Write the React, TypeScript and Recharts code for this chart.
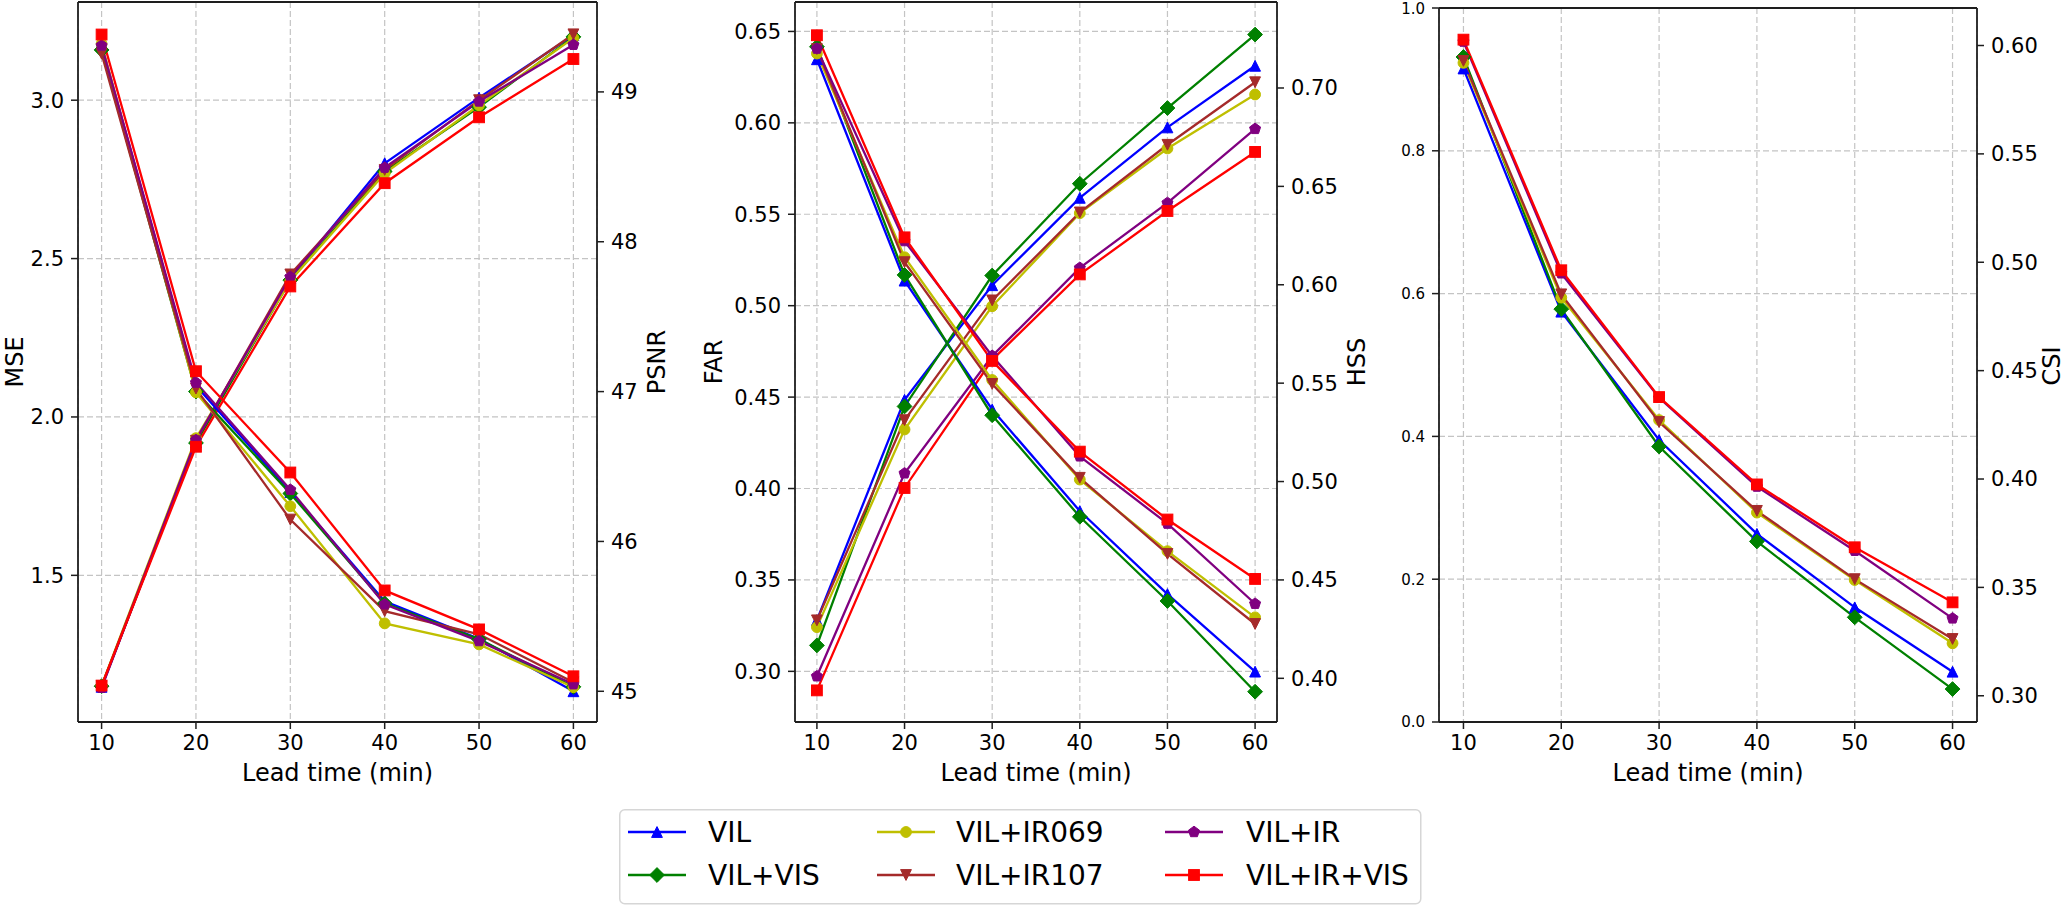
import React from 'react';
import { LineChart, Line, XAxis, YAxis, CartesianGrid, ReferenceLine } from 'recharts';

// ---------- data ----------
const leadTimes = [10, 20, 30, 40, 50, 60];
const seriesNames = ['VIL', 'VIL+VIS', 'VIL+IR069', 'VIL+IR107', 'VIL+IR', 'VIL+IR+VIS'];
const seriesColors = ['#0000ff', '#008000', '#bfbf00', '#a52a2a', '#800080', '#ff0000'];
const seriesMarkers = ['triUp', 'diamond', 'circle', 'triDown', 'pentagon', 'square'];

const mseVIL = [1.148, 1.92, 2.438, 2.801, 3.008, 3.205];
const mseVIS = [1.15, 1.918, 2.432, 2.775, 2.978, 3.2];
const mseIR069 = [1.152, 1.933, 2.43, 2.769, 2.984, 3.196];
const mseIR107 = [1.15, 1.925, 2.45, 2.78, 3.0, 3.208];
const mseIR = [1.145, 1.927, 2.442, 2.787, 2.996, 3.175];
const mseIRVIS = [1.152, 1.906, 2.412, 2.738, 2.946, 3.13];

const psnrVIL = [49.31, 47.04, 46.33, 45.6, 45.35, 45.0];
const psnrVIS = [49.28, 47.0, 46.32, 45.587, 45.347, 45.03];
const psnrIR069 = [49.32, 46.995, 46.235, 45.453, 45.313, 45.027];
const psnrIR107 = [49.255, 47.02, 46.146, 45.535, 45.38, 45.06];
const psnrIR = [49.31, 47.06, 46.345, 45.58, 45.335, 45.047];
const psnrIRVIS = [49.383, 47.136, 46.46, 45.673, 45.413, 45.1];

const farVIL = [0.328, 0.4485, 0.5112, 0.559, 0.5975, 0.6312];
const farVIS = [0.3142, 0.4449, 0.5165, 0.5667, 0.6081, 0.6483];
const farIR069 = [0.3242, 0.4323, 0.4997, 0.5506, 0.586, 0.6155];
const farIR107 = [0.3279, 0.4374, 0.5029, 0.551, 0.588, 0.6222];
const farIR = [0.2973, 0.4083, 0.4725, 0.5207, 0.5562, 0.5967];
const farIRVIS = [0.2896, 0.4003, 0.4704, 0.5171, 0.5518, 0.5841];

const hssVIL = [0.7146, 0.6021, 0.5366, 0.485, 0.4428, 0.4034];
const hssVIS = [0.721, 0.605, 0.5337, 0.4821, 0.4393, 0.3932];
const hssIR069 = [0.7175, 0.614, 0.5516, 0.501, 0.4646, 0.431];
const hssIR107 = [0.7198, 0.6115, 0.5496, 0.5019, 0.4632, 0.4276];
const hssIR = [0.72, 0.6222, 0.5638, 0.5128, 0.4786, 0.4379];
const hssIRVIS = [0.7268, 0.6241, 0.5613, 0.5152, 0.4807, 0.4505];

const csiVIL = [0.5894, 0.4772, 0.418, 0.3747, 0.3408, 0.3111];
const csiVIS = [0.5947, 0.4784, 0.415, 0.3712, 0.3362, 0.3031];
const csiIR069 = [0.592, 0.4837, 0.4272, 0.3845, 0.3534, 0.3242];
const csiIR107 = [0.5929, 0.4852, 0.4263, 0.3853, 0.3538, 0.3262];
const csiIR = [0.6018, 0.4949, 0.4375, 0.3965, 0.3669, 0.3357];
const csiIRVIS = [0.6027, 0.4963, 0.4378, 0.3975, 0.3685, 0.3431];

const xTicks = [10, 20, 30, 40, 50, 60];
const mseTicks = [1.5, 2.0, 2.5, 3.0];
const psnrTicks = [45, 46, 47, 48, 49];
const farTicks = [0.3, 0.35, 0.4, 0.45, 0.5, 0.55, 0.6, 0.65];
const hssTicks = [0.4, 0.45, 0.5, 0.55, 0.6, 0.65, 0.7];
const blankTicks = [0, 0.2, 0.4, 0.6, 0.8, 1.0];
const csiTicks = [0.3, 0.35, 0.4, 0.45, 0.5, 0.55, 0.6];

const xAxisTitle = 'Lead time (min)';
const panelLeftTitles = ['MSE', 'FAR', ''];
const panelRightTitles = ['PSNR', 'HSS', 'CSI'];

const mseSeries = [mseVIL, mseVIS, mseIR069, mseIR107, mseIR, mseIRVIS];
const psnrSeries = [psnrVIL, psnrVIS, psnrIR069, psnrIR107, psnrIR, psnrIRVIS];
const farSeries = [farVIL, farVIS, farIR069, farIR107, farIR, farIRVIS];
const hssSeries = [hssVIL, hssVIS, hssIR069, hssIR107, hssIR, hssIRVIS];
const csiSeries = [csiVIL, csiVIS, csiIR069, csiIR107, csiIR, csiIRVIS];

// ---------- helpers ----------
const FONT = 'DejaVu Sans';
const SPINE = '#1e1e1e';

function buildRows(left: number[][] | null, right: number[][]) {
  return leadTimes.map((t, i) => {
    const row: any = { t };
    if (left) left.forEach((s, k) => (row['l' + k] = s[i]));
    right.forEach((s, k) => (row['r' + k] = s[i]));
    return row;
  });
}

function Marker(props: any) {
  const { cx, cy, shape, color } = props;
  if (cx == null || cy == null || isNaN(cx) || isNaN(cy)) return null;
  const s = 5.4;
  const common = { fill: color, stroke: color, strokeWidth: 1 };
  switch (shape) {
    case 'triUp':
      return <polygon {...common} points={`${cx},${cy - s} ${cx - s},${cy + s} ${cx + s},${cy + s}`} />;
    case 'triDown':
      return <polygon {...common} points={`${cx},${cy + s} ${cx - s},${cy - s} ${cx + s},${cy - s}`} />;
    case 'diamond': {
      const d = 7.4;
      return <polygon {...common} points={`${cx},${cy - d} ${cx + d},${cy} ${cx},${cy + d} ${cx - d},${cy}`} />;
    }
    case 'circle':
      return <circle {...common} cx={cx} cy={cy} r={s} />;
    case 'pentagon': {
      const r = 5.8;
      const pts = [0, 1, 2, 3, 4]
        .map((k) => {
          const a = ((-90 + 72 * k) * Math.PI) / 180;
          return `${cx + r * Math.cos(a)},${cy + r * Math.sin(a)}`;
        })
        .join(' ');
      return <polygon {...common} points={pts} />;
    }
    case 'square':
    default:
      return <rect {...common} x={cx - s} y={cy - s} width={2 * s} height={2 * s} />;
  }
}

type PanelProps = {
  left: number;
  width: number;
  top: number;
  leftW: number;
  rightW: number;
  rows: any[];
  leftDomain: [number, number];
  leftTicks: number[];
  leftFmt: (v: number) => string;
  leftFont: number;
  rightDomain: [number, number];
  rightTicks: number[];
  rightFmt: (v: number) => string;
  hasLeftSeries: boolean;
};

const CH = 800;
const XAXIS_H = 78;

function Panel(p: PanelProps) {
  const tickStyle = { fontSize: 21, fill: '#000', fontFamily: FONT };
  return (
    <div style={{ position: 'absolute', left: p.left, top: 0 }}>
      <LineChart width={p.width} height={CH} data={p.rows} margin={{ top: p.top, right: 0, bottom: 0, left: 0 }}>
        <CartesianGrid yAxisId="left" xAxisId="x" stroke="#c4c4c4" strokeWidth={1.2} strokeDasharray="6 3" />
        <XAxis
          xAxisId="x"
          dataKey="t"
          type="number"
          domain={[7.5, 62.5]}
          ticks={xTicks}
          allowDataOverflow
          height={XAXIS_H}
          tickSize={7}
          tickMargin={6}
          tick={tickStyle}
          stroke={SPINE}
          axisLine={{ stroke: SPINE, strokeWidth: 1.8 }}
          tickLine={{ stroke: SPINE, strokeWidth: 1.5 }}
        />
        <YAxis
          yAxisId="left"
          orientation="left"
          width={p.leftW}
          type="number"
          domain={p.leftDomain}
          ticks={p.leftTicks}
          allowDataOverflow
          tickFormatter={p.leftFmt}
          tickSize={7}
          tickMargin={7}
          tick={{ ...tickStyle, fontSize: p.leftFont }}
          axisLine={{ stroke: SPINE, strokeWidth: 1.8 }}
          tickLine={{ stroke: SPINE, strokeWidth: 1.5 }}
        />
        <YAxis
          yAxisId="right"
          orientation="right"
          width={p.rightW}
          type="number"
          domain={p.rightDomain}
          ticks={p.rightTicks}
          allowDataOverflow
          tickFormatter={p.rightFmt}
          tickSize={7}
          tickMargin={7}
          tick={tickStyle}
          axisLine={{ stroke: SPINE, strokeWidth: 1.8 }}
          tickLine={{ stroke: SPINE, strokeWidth: 1.5 }}
        />
        <ReferenceLine yAxisId="left" xAxisId="x" y={p.leftDomain[1]} stroke={SPINE} strokeWidth={1.8} ifOverflow="extendDomain" />
        {p.hasLeftSeries &&
          seriesNames.map((name, k) => (
            <Line
              key={'l' + k}
              name={name}
              xAxisId="x"
              yAxisId="left"
              dataKey={'l' + k}
              stroke={seriesColors[k]}
              strokeWidth={2.3}
              isAnimationActive={false}
              activeDot={false}
              dot={(dp: any) => (
                <Marker key={'ml' + k + '-' + dp.index} cx={dp.cx} cy={dp.cy} shape={seriesMarkers[k]} color={seriesColors[k]} />
              )}
            />
          ))}
        {seriesNames.map((name, k) => (
          <Line
            key={'r' + k}
            name={name}
            xAxisId="x"
            yAxisId="right"
            dataKey={'r' + k}
            stroke={seriesColors[k]}
            strokeWidth={2.3}
            isAnimationActive={false}
            activeDot={false}
            dot={(dp: any) => (
              <Marker key={'mr' + k + '-' + dp.index} cx={dp.cx} cy={dp.cy} shape={seriesMarkers[k]} color={seriesColors[k]} />
            )}
          />
        ))}
      </LineChart>
    </div>
  );
}

function AxisTitles() {
  const vTitles = [
    { text: panelLeftTitles[0], x: 15, y: 362 },
    { text: panelRightTitles[0], x: 657, y: 362 },
    { text: panelLeftTitles[1], x: 714, y: 362 },
    { text: panelRightTitles[1], x: 1357, y: 362 },
    { text: panelRightTitles[2], x: 2052, y: 366 },
  ];
  const hTitles = [337.5, 1036, 1708];
  return (
    <svg style={{ position: 'absolute', left: 0, top: 0, pointerEvents: 'none' }} width={2067} height={906}>
      {vTitles
        .filter((t) => t.text)
        .map((t) => (
          <text
            key={t.text}
            x={t.x}
            y={t.y}
            transform={`rotate(-90 ${t.x} ${t.y})`}
            textAnchor="middle"
            dominantBaseline="central"
            fontFamily={FONT}
            fontSize={24}
            fill="#000"
          >
            {t.text}
          </text>
        ))}
      {hTitles.map((x, i) => (
        <text key={'h' + i} x={x} y={773} textAnchor="middle" dominantBaseline="central" fontFamily={FONT} fontSize={24} fill="#000">
          {xAxisTitle}
        </text>
      ))}
    </svg>
  );
}

function LegendBox() {
  const colX = [9, 258, 546];
  const textX = [89, 337, 627];
  const rowY = [23, 66];
  return (
    <svg style={{ position: 'absolute', left: 619, top: 809 }} width={804} height={96}>
      <rect x={0.75} y={0.75} width={801} height={94} rx={5} ry={5} fill="#fff" stroke="#d6d6d6" strokeWidth={1.5} />
      {seriesNames.map((name, i) => {
        const c = Math.floor(i / 2);
        const r = i % 2;
        const y = rowY[r];
        return (
          <g key={name}>
            <line x1={colX[c]} x2={colX[c] + 58} y1={y} y2={y} stroke={seriesColors[i]} strokeWidth={2.6} />
            <Marker cx={colX[c] + 29} cy={y} shape={seriesMarkers[i]} color={seriesColors[i]} />
            <text x={textX[c]} y={y} dominantBaseline="central" fontFamily={FONT} fontSize={28} fill="#000">
              {name}
            </text>
          </g>
        );
      })}
    </svg>
  );
}

export default function App() {
  const rows1 = buildRows(mseSeries, psnrSeries);
  const rows2 = buildRows(farSeries, hssSeries);
  const rows3 = buildRows(null, csiSeries);
  const f1 = (v: number) => v.toFixed(1);
  const f0 = (v: number) => v.toFixed(0);
  const f2 = (v: number) => v.toFixed(2);
  return (
    <div style={{ position: 'absolute', left: 0, top: 0, width: 2067, height: 906, background: '#fff', overflow: 'hidden' }}>
      <Panel
        left={0}
        width={700}
        top={2}
        leftW={78}
        rightW={103}
        rows={rows1}
        leftDomain={[1.037, 3.31]}
        leftTicks={mseTicks}
        leftFmt={f1}
        leftFont={21}
        rightDomain={[44.795, 49.6]}
        rightTicks={psnrTicks}
        rightFmt={f0}
        hasLeftSeries={true}
      />
      <Panel
        left={700}
        width={690}
        top={2}
        leftW={95}
        rightW={113}
        rows={rows2}
        leftDomain={[0.2723, 0.6661]}
        leftTicks={farTicks}
        leftFmt={f2}
        leftFont={21}
        rightDomain={[0.3778, 0.7437]}
        rightTicks={hssTicks}
        rightFmt={f2}
        hasLeftSeries={true}
      />
      <Panel
        left={1390}
        width={677}
        top={8}
        leftW={49}
        rightW={90}
        rows={rows3}
        leftDomain={[0, 1]}
        leftTicks={blankTicks}
        leftFmt={f1}
        leftFont={15}
        rightDomain={[0.2879, 0.6173]}
        rightTicks={csiTicks}
        rightFmt={f2}
        hasLeftSeries={false}
      />
      <AxisTitles />
      <LegendBox />
    </div>
  );
}
